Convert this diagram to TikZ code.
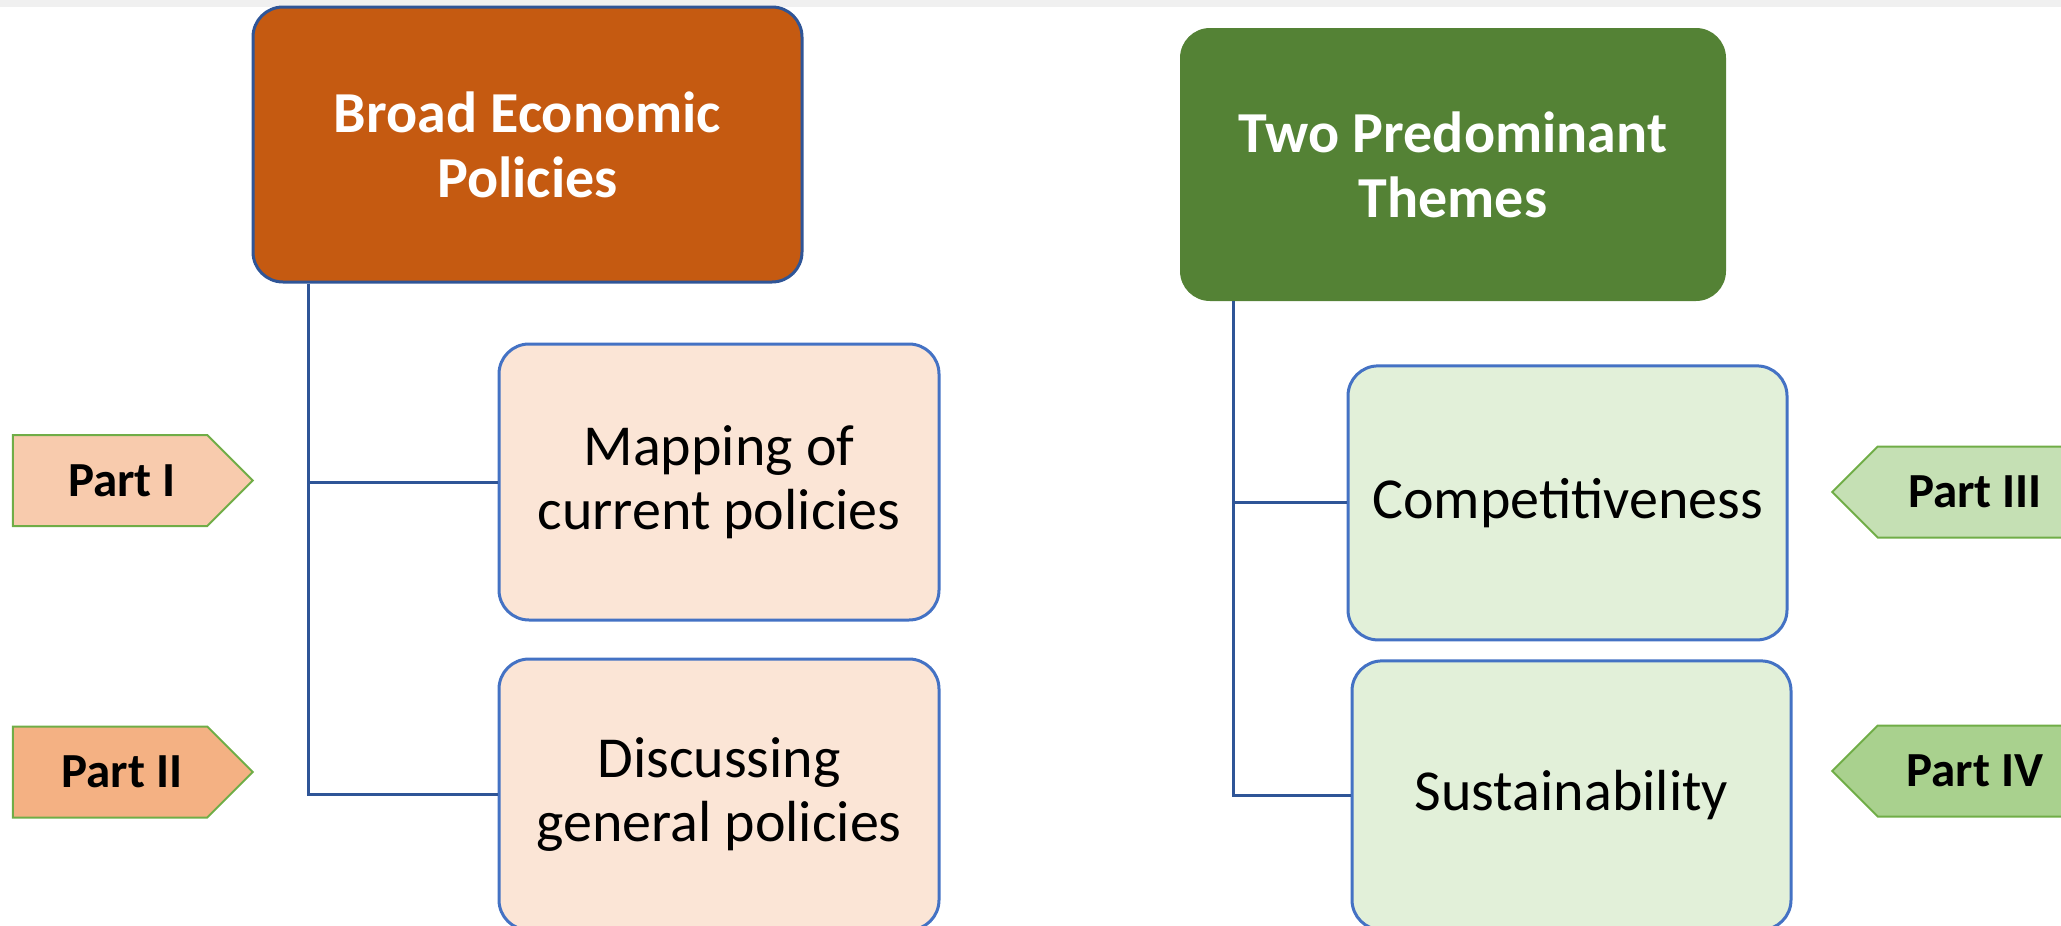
\documentclass[tikz,border=0pt]{standalone}
\usepackage{fontspec}
\setmainfont{Carlito}
\usepackage{tikz}
\usetikzlibrary{shapes}
\usetikzlibrary{positioning}

\definecolor{econfill}{HTML}{C55A11}
\definecolor{themefill}{HTML}{548235}
\definecolor{peach}{HTML}{FBE5D6}
\definecolor{mint}{HTML}{E2F0D9}
\definecolor{boxline}{HTML}{4472C4}
\definecolor{darkline}{HTML}{2F5597}
\definecolor{tagline}{HTML}{70AD47}
\definecolor{tagone}{HTML}{F8CBAD}
\definecolor{tagtwo}{HTML}{F4B183}
\definecolor{tagthree}{HTML}{C5E0B4}
\definecolor{tagfour}{HTML}{A9D18E}

\begin{document}
\begin{tikzpicture}[node distance=1cm]
  \tikzstyle{hbox}=[rectangle, rounded corners=15pt, text=white, align=center, font=\bfseries\fontsize{29}{32.5}\selectfont]
  \tikzstyle{cbox}=[rectangle, rounded corners=15pt, draw=boxline, line width=1.5pt, align=center, minimum width=220pt, font=\fontsize{29}{32}\selectfont]
  \tikzstyle{tag}=[signal, signal pointer angle=90, draw=tagline, line width=1pt, minimum width=120pt, minimum height=45.5pt, font=\bfseries\fontsize{24.5}{27}\selectfont]
  \tikzstyle{ltag}=[tag, signal to=east, execute at begin node=\hspace*{12pt}]
  \tikzstyle{rtag}=[tag, signal to=west]
  \tikzstyle{link}=[draw=darkline, line width=1.5pt]
  \useasboundingbox (0,0) rectangle (1030.5pt,-463pt);
  \fill[black!6] (0,0) rectangle (1030.5pt,-3.5pt);

  \node (econ) [hbox, fill=econfill, draw=darkline, line width=1.5pt, minimum width=274.5pt, minimum height=137.5pt] at (263.75pt,-72.25pt) {Broad Economic\\Policies};
  \node (themes) [hbox, fill=themefill, minimum width=273pt, minimum height=136.5pt] at (726.5pt,-82.25pt) {Two Predominant\\Themes};

  \node (mapping) [cbox, fill=peach, minimum height=138pt, below=29.5pt of econ, xshift=95.75pt] {Mapping of\\current policies};
  \node (discuss) [cbox, fill=peach, minimum height=135.5pt, below=18pt of mapping] {Discussing\\general policies};
  \node (compet) [cbox, fill=mint, minimum width=219.5pt, minimum height=137pt, below=31.5pt of themes, xshift=57.25pt] {Competitiveness};
  \node (sustain) [cbox, fill=mint, minimum width=219.5pt, minimum height=134.5pt, below=9pt of compet, xshift=2pt] {Sustainability};

  \node (partI) [ltag, fill=tagone] at (55pt,-240.25pt) {Part I};
  \node (partII) [ltag, fill=tagtwo] at (55pt,-386pt) {Part II};
  \node (partIII) [rtag, fill=tagthree] at (987.5pt,-246pt) {Part III};
  \node (partIV) [rtag, fill=tagfour] at (987.5pt,-385.5pt) {Part IV};

  \coordinate (trunkL) at (154pt,0);
  \coordinate (trunkR) at (616.5pt,0);
  \draw[link] (econ.south -| trunkL) |- (mapping.west);
  \draw[link] (econ.south -| trunkL) |- (discuss.west);
  \draw[link] (themes.south -| trunkR) |- (compet.west);
  \draw[link] (themes.south -| trunkR) |- (sustain.west);
\end{tikzpicture}
\end{document}
